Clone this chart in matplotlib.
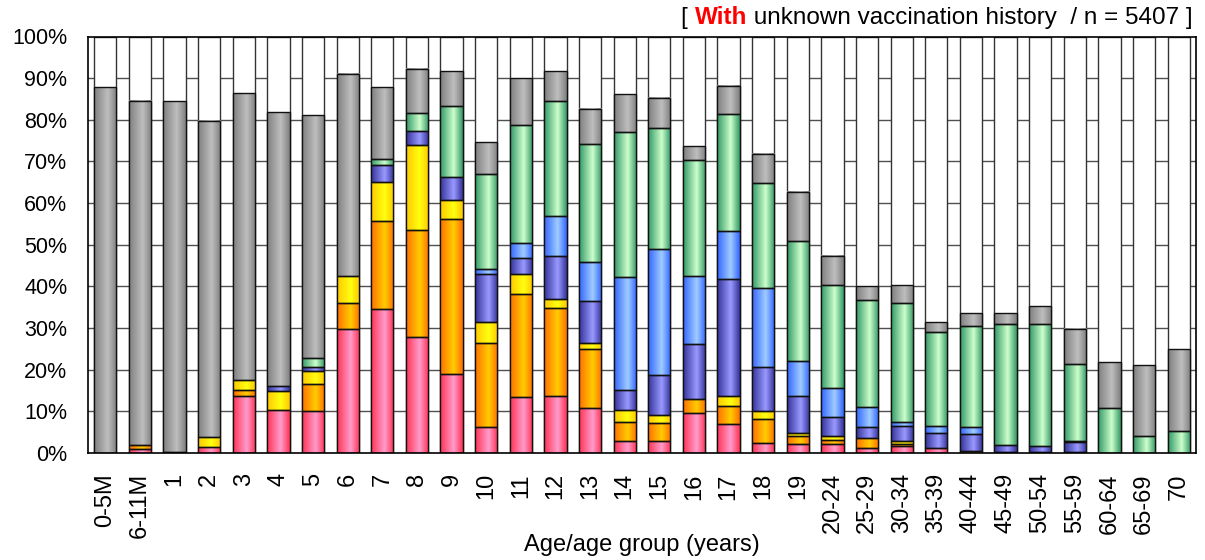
import numpy as np
import matplotlib
matplotlib.use("Agg")
import matplotlib.pyplot as plt
from matplotlib.colors import LinearSegmentedColormap

plt.rcParams['font.family'] = ['Liberation Sans', 'DejaVu Sans']

categories = ["0-5M", "6-11M", "1", "2", "3", "4", "5", "6", "7", "8", "9",
              "10", "11", "12", "13", "14", "15", "16", "17", "18", "19",
              "20-24", "25-29", "30-34", "35-39", "40-44", "45-49", "50-54",
              "55-59", "60-64", "65-69", "70"]

# segment heights (%) from bottom to top
pink = [0, 1.0, 0.3, 1.5, 13.8, 10.4, 10.2, 29.8, 34.5, 27.8, 19.0,
        6.2, 13.4, 13.7, 10.9, 2.9, 3.0, 9.7, 6.9, 2.4, 2.2,
        2.2, 1.2, 1.6, 1.3, 0, 0, 0.3, 0, 0, 0, 0]
orange = [0, 1.0, 0, 0, 1.4, 0, 6.4, 6.3, 21.3, 25.8, 37.2,
          20.3, 24.8, 21.2, 14.0, 4.5, 4.2, 3.3, 4.5, 5.8, 2.0,
          1.0, 2.4, 0.6, 0, 0, 0, 0, 0, 0, 0, 0]
yellow = [0, 0, 0, 2.3, 2.4, 4.6, 3.0, 6.3, 9.2, 20.4, 4.6,
          5.0, 4.8, 2.1, 1.5, 3.0, 2.0, 0, 2.4, 1.9, 0.6,
          0.9, 0, 0.6, 0, 0.4, 0.2, 0, 0.3, 0, 0, 0]
purple = [0, 0, 0, 0, 0, 1.1, 1.0, 0, 4.2, 3.4, 5.4,
          11.4, 3.8, 10.3, 10.2, 4.7, 9.5, 13.2, 28.0, 10.5, 8.8,
          4.6, 2.7, 3.6, 3.4, 4.2, 1.8, 1.4, 2.3, 0, 0, 0]
lightblue = [0, 0, 0, 0, 0, 0, 0, 0, 0, 0, 0,
             1.3, 3.7, 9.5, 9.3, 27.2, 30.2, 16.3, 11.6, 18.9, 8.6,
             6.9, 4.8, 1.1, 1.9, 1.7, 0, 0, 0.4, 0, 0, 0]
green = [0, 0, 0, 0, 0, 0, 2.2, 0, 1.4, 4.2, 17.2,
         22.8, 28.3, 27.8, 28.2, 34.8, 29.1, 27.9, 27.9, 25.3, 28.6,
         24.7, 25.7, 28.6, 22.4, 24.3, 29.0, 29.3, 18.3, 10.8, 4.2, 5.4]
gray = [87.8, 82.6, 84.2, 76.0, 68.9, 65.7, 58.3, 48.7, 17.2, 10.7, 8.3,
        7.6, 11.2, 7.2, 8.6, 9.1, 7.3, 3.3, 6.9, 7.1, 11.8,
        7.0, 3.2, 4.3, 2.4, 3.0, 2.6, 4.3, 8.5, 11.0, 16.9, 19.5]

layers = [pink, orange, yellow, purple, lightblue, green, gray]
# (edge shade, centre highlight)
shades = [("#FF3355", "#FF9CCB"),
          ("#FF7000", "#FFCC00"),
          ("#FFC800", "#FFFF10"),
          ("#333399", "#9999FF"),
          ("#3366FF", "#A0CCFF"),
          ("#339966", "#CCFFCC"),
          ("#808080", "#BEBEBE")]

fig = plt.figure(figsize=(12.05, 5.6), dpi=100)
ax = fig.add_axes([88 / 1205, 107 / 560, (1196 - 88) / 1205, (453 - 36.5) / 560])

n = len(categories)
x = np.arange(n)
width = 0.64

ax.set_xlim(-0.5, n - 0.5)
ax.set_ylim(0, 100)

# gridlines (hidden behind the bars)
for v in range(10, 100, 10):
    ax.axhline(v, color="#505050", lw=1.0, zorder=0.1)

# full-height white background bars (cover the gridlines)
ax.bar(x, [100] * n, width, color="white", edgecolor="#333333",
       linewidth=1.0, zorder=1.5)

grad = np.linspace(0, 1, 64)[None, :]
bottom = np.zeros(n)
for vals, (edge, centre) in zip(layers, shades):
    vals = np.asarray(vals, dtype=float)
    cmap = LinearSegmentedColormap.from_list(
        "g", [(0, edge), (0.6, centre), (1, edge)])
    mask = vals > 0
    bars = ax.bar(x[mask], vals[mask], width, bottom=bottom[mask],
                  color=centre, edgecolor="none", zorder=2)
    for r in bars:
        x0, y0 = r.get_x(), r.get_y()
        ax.imshow(grad, extent=(x0, x0 + r.get_width(), y0, y0 + r.get_height()),
                  aspect="auto", cmap=cmap, interpolation="bilinear", zorder=2.1)
    ax.bar(x[mask], vals[mask], width, bottom=bottom[mask],
           fill=False, edgecolor="#111111", linewidth=1.0, zorder=3)
    bottom = bottom + vals

ax.set_xlim(-0.5, n - 0.5)
ax.set_ylim(0, 100)
ax.set_aspect("auto")

ax.set_yticks(np.arange(0, 101, 10))
ax.set_yticklabels([f"{v}%" for v in range(0, 101, 10)], fontsize=15.5)
ax.set_xticks(x)
ax.set_xticklabels(categories, rotation=90, fontsize=17, va="top")
ax.tick_params(axis="both", length=0)
ax.tick_params(axis="y", pad=15)
ax.tick_params(axis="x", pad=14.5)
for s in ax.spines.values():
    s.set_color("black")
    s.set_linewidth(1.2)
    s.set_zorder(5)

ax.set_xlabel("Age/age group (years)", fontsize=17, labelpad=0)
ax.xaxis.set_label_coords(0.5, -0.195)

t3 = ax.text(0.997, 1.018, " unknown vaccination history  / n = 5407 ]",
             transform=ax.transAxes, ha="right", va="bottom", fontsize=17.5)
t2 = ax.annotate("With", xy=(0, 0), xycoords=t3, ha="right", va="bottom",
                 color="red", fontweight="bold", fontsize=17.5)
t1 = ax.annotate("[ ", xy=(0, 0), xycoords=t2, ha="right", va="bottom",
                 fontsize=17.5)

fig.savefig("out.png", dpi=100)
